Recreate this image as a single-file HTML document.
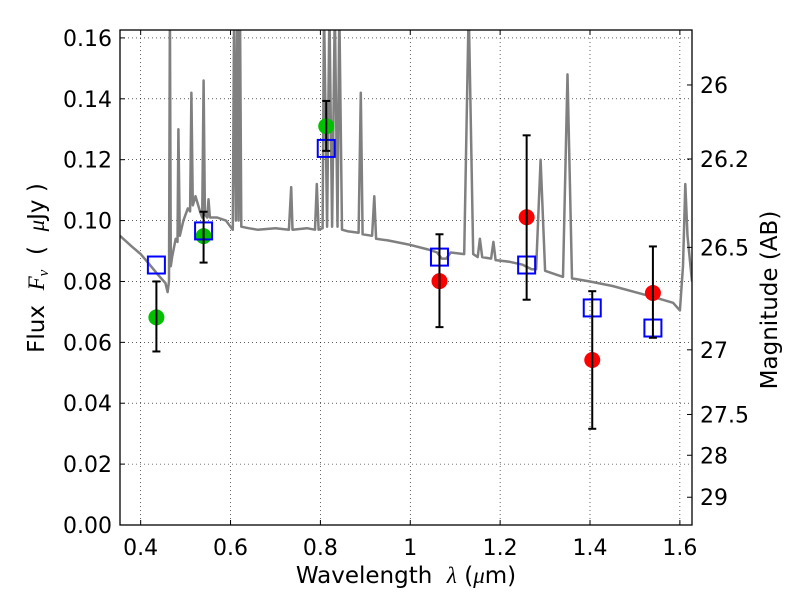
<!DOCTYPE html>
<html><head><meta charset="utf-8"><style>
body{margin:0;background:#fff;}
svg{display:block;font-family:"DejaVu Sans","Liberation Sans",sans-serif;}
text{white-space:pre;}
</style></head><body>
<svg id="chart" width="800" height="600" viewBox="0 0 800 600">
<rect x="0" y="0" width="800" height="600" fill="#fff"/>
<g id="grid"></g>
<g id="spec"></g>
<g id="marks"></g>
<rect x="120" y="30" width="572" height="495" fill="none" stroke="#000" stroke-width="1.3"/>
<g id="axes"></g>
<text x="406" y="583" font-size="23" text-anchor="middle">Wavelength  <tspan font-family="Liberation Serif,serif" font-style="italic">λ</tspan> (<tspan font-family="Liberation Serif,serif" font-style="italic">μ</tspan>m)</text>
<text transform="translate(44,268) rotate(-90)" font-size="23" text-anchor="middle">Flux  <tspan font-family="Liberation Serif,serif" font-style="italic">F<tspan font-size="15" dy="4">ν</tspan></tspan><tspan dy="-4">  (  </tspan><tspan font-family="Liberation Serif,serif" font-style="italic">μ</tspan>Jy )</text>
<text transform="translate(777,300) rotate(-90)" font-size="23" text-anchor="middle">Magnitude (AB)</text>
</svg>
<script>
const xTicks=[0.4,0.6,0.8,1.0,1.2,1.4,1.6];
const xTickLabels=["0.4","0.6","0.8","1","1.2","1.4","1.6"];
const yTicks=[0,0.02,0.04,0.06,0.08,0.10,0.12,0.14,0.16];
const yTickLabels=["0.00","0.02","0.04","0.06","0.08","0.10","0.12","0.14","0.16"];
const magTicks=[26,26.2,26.5,27,27.5,28,29];
const magTickLabels=["26","26.2","26.5","27","27.5","28","29"];
const photWave=[0.435,0.54,0.813,1.065,1.259,1.405,1.54];
const modelFlux=[0.0854,0.0966,0.1237,0.088,0.0854,0.0713,0.0647];
const obsFlux=[0.0682,0.0949,0.131,0.0801,0.1011,0.0542,0.0762];
const obsLow=[0.057,0.0862,0.1229,0.065,0.074,0.0316,0.0615];
const obsHigh=[0.080,0.1029,0.1393,0.0955,0.128,0.0768,0.0915];
const obsColor=["#00c000","#00c000","#00c000","#ff0000","#ff0000","#ff0000","#ff0000"];
const specWave=[0.354,0.38,0.40,0.42,0.44,0.455,0.46,0.463,0.465,0.467,0.47,0.478,0.482,0.484,0.487,0.495,0.505,0.51,0.513,0.516,0.522,0.532,0.537,0.54,0.543,0.548,0.551,0.554,0.57,0.59,0.600,0.605,0.608,0.612,0.615,0.618,0.621,0.624,0.64,0.66,0.70,0.73,0.735,0.738,0.77,0.788,0.792,0.796,0.805,0.808,0.815,0.82,0.826,0.832,0.838,0.842,0.848,0.86,0.885,0.89,0.894,0.915,0.92,0.924,0.95,1.0,1.04,1.06,1.07,1.08,1.09,1.12,1.13,1.14,1.15,1.155,1.16,1.18,1.185,1.19,1.22,1.25,1.27,1.28,1.29,1.30,1.34,1.35,1.36,1.40,1.45,1.50,1.55,1.585,1.6,1.607,1.612,1.617,1.627];
const specFlux=[0.095,0.0915,0.089,0.0855,0.082,0.0795,0.0765,0.080,0.17,0.085,0.088,0.094,0.093,0.130,0.095,0.100,0.104,0.103,0.142,0.105,0.108,0.103,0.101,0.146,0.102,0.101,0.107,0.101,0.101,0.100,0.098,0.097,0.17,0.10,0.17,0.10,0.17,0.098,0.0975,0.097,0.0975,0.097,0.111,0.097,0.0975,0.097,0.112,0.097,0.0975,0.17,0.098,0.17,0.098,0.17,0.098,0.17,0.097,0.0965,0.096,0.142,0.0955,0.095,0.108,0.094,0.0935,0.092,0.0905,0.0895,0.0875,0.0875,0.0895,0.089,0.17,0.089,0.088,0.094,0.088,0.0875,0.093,0.087,0.0865,0.0855,0.084,0.084,0.120,0.0835,0.0815,0.148,0.081,0.080,0.0785,0.0765,0.0745,0.073,0.0705,0.085,0.112,0.095,0.080];
const X0=120,X1=692,Y0=525,Y1=30,XMIN=0.354,XMAX=1.627,YMIN=0,YMAX=0.1626;
const sx=v=>X0+(v-XMIN)/(XMAX-XMIN)*(X1-X0);
const sy=v=>Y0-(v-YMIN)/(YMAX-YMIN)*(Y0-Y1);
const magToFlux=m=>Math.pow(10,(23.9-m)/2.5);
const NS="http://www.w3.org/2000/svg";
function mk(tag,attrs,parent){const e=document.createElementNS(NS,tag);for(const k in attrs)e.setAttribute(k,attrs[k]);parent.appendChild(e);return e;}
const grid=document.getElementById('grid'),axes=document.getElementById('axes'),spec=document.getElementById('spec'),marks=document.getElementById('marks');
xTicks.forEach((t,i)=>{const x=sx(t);
 const g=mk('line',{x1:x,x2:x,y1:Y1,y2:Y0,stroke:'#000','stroke-width':0.6,'stroke-dasharray':'1,3'},grid);
 
 
 mk('line',{x1:x,x2:x,y1:Y0,y2:Y0-5,stroke:'#000'},axes);
 mk('line',{x1:x,x2:x,y1:Y1,y2:Y1+5,stroke:'#000'},axes);
 const tx=mk('text',{x:x,y:Y0+30,'font-size':22,'text-anchor':'middle'},axes);tx.textContent=xTickLabels[i];
 
 
});
yTicks.forEach((t,i)=>{const y=sy(t);
 const g=mk('line',{x1:X0,x2:X1,y1:y,y2:y,stroke:'#000','stroke-width':0.6,'stroke-dasharray':'1,3'},grid);
 
 
 mk('line',{x1:X0,x2:X0+5,y1:y,y2:y,stroke:'#000'},axes);
 const tx=mk('text',{x:X0-8,y:y+8,'font-size':22,'text-anchor':'end'},axes);tx.textContent=yTickLabels[i];
 
 
});
magTicks.forEach((m,i)=>{const y=sy(magToFlux(m));
 mk('line',{x1:X1,x2:X1-5,y1:y,y2:y,stroke:'#000'},axes);
 const tx=mk('text',{x:X1+8,y:y+8,'font-size':22,'text-anchor':'start'},axes);tx.textContent=magTickLabels[i];
 
 
});
const clip=mk('clipPath',{id:'pc'},document.getElementById('chart'));
mk('rect',{x:X0,y:Y1,width:X1-X0,height:Y0-Y1},clip);
const pts=specWave.map((w,i)=>sx(w).toFixed(1)+','+sy(specFlux[i]).toFixed(1)).join(' ');
const pl=mk('polyline',{points:pts,fill:'none',stroke:'#808080','stroke-width':2.5,'stroke-linejoin':'round','clip-path':'url(#pc)'},spec);


photWave.forEach((w,i)=>{const x=sx(w);
 const c=mk('circle',{cx:x,cy:sy(obsFlux[i]),r:8,fill:obsColor[i]},marks);
 
 
 const sq=mk('rect',{x:x-8.5,y:sy(modelFlux[i])-8.5,width:17,height:17,fill:'none',stroke:'#0000ff','stroke-width':2},marks);
 
 
 const eb=mk('g',{stroke:'#000','stroke-width':2},marks);
 
 
 mk('line',{x1:x,x2:x,y1:sy(obsLow[i]),y2:sy(obsHigh[i])},eb);
 mk('line',{x1:x-4,x2:x+4,y1:sy(obsLow[i]),y2:sy(obsLow[i])},eb);
 mk('line',{x1:x-4,x2:x+4,y1:sy(obsHigh[i]),y2:sy(obsHigh[i])},eb);
});
</script>
</body></html>
